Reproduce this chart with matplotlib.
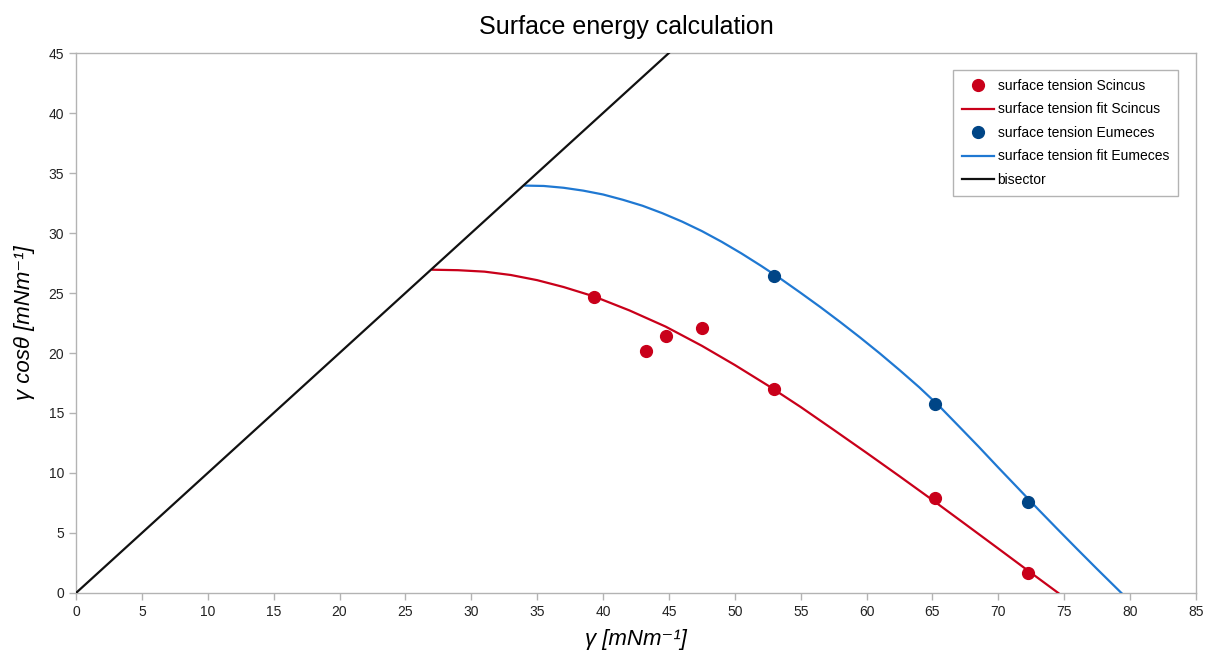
import matplotlib
matplotlib.use("Agg")
import matplotlib.pyplot as plt

plt.rcParams["font.family"] = ["Liberation Sans", "DejaVu Sans"]

# measured surface tension (x: gamma, y: gamma cos theta)
scincus_x = [39.3, 43.26, 44.77, 47.5, 52.95, 65.2, 72.27]
scincus_y = [24.7, 20.19, 21.44, 22.1, 17.02, 7.92, 1.67]

eumeces_x = [53.0, 65.23, 72.27]
eumeces_y = [26.44, 15.78, 7.55]

# fit curves
fit_scincus_x = [27.07, 29.0, 31.0, 33.0, 35.0, 37.0, 39.3, 42.0, 44.75, 47.5,
                 50.0, 52.5, 55.0, 57.5, 60.0, 62.5, 65.0, 67.5, 70.0, 72.5,
                 74.55]
fit_scincus_y = [26.94, 26.9, 26.78, 26.5, 26.07, 25.5, 24.72, 23.55, 22.2, 20.6,
                 19.0, 17.3, 15.5, 13.6, 11.68, 9.73, 7.75, 5.73, 3.7, 1.66,
                 0.0]

fit_eumeces_x = [34.1, 35.5, 37.0, 38.5, 40.0, 41.5, 43.0, 44.5, 46.0, 47.5,
                 49.0, 50.5, 52.0, 53.5, 55.0, 56.5, 58.0, 59.5, 61.0, 62.5,
                 64.0, 65.5, 67.0, 68.5, 70.0, 71.5, 73.0, 74.5, 76.0, 77.5,
                 79.34]
fit_eumeces_y = [33.95, 33.92, 33.77, 33.53, 33.21, 32.77, 32.27, 31.65, 30.95, 30.16,
                 29.27, 28.3, 27.26, 26.17, 25.01, 23.82, 22.58, 21.3, 19.97, 18.58,
                 17.14, 15.59, 13.9, 12.2, 10.45, 8.73, 7.0, 5.31, 3.64, 1.99,
                 0.0]

bisector_x = [0, 45]
bisector_y = [0, 45]

RED = "#c9001a"
BLUE_PT = "#004586"
BLUE_LN = "#1f78d2"
FRAME = "#b3b3b3"

fig = plt.figure(figsize=(12.06, 6.52), dpi=100)
ax = fig.add_axes([0.063, 0.0905, 0.9287, 0.8282])

ax.plot(scincus_x, scincus_y, "o", color=RED, ms=8.5, label="surface tension Scincus", zorder=4)
ax.plot(fit_scincus_x, fit_scincus_y, "-", color=RED, lw=1.6, label="surface tension fit Scincus", zorder=3)
ax.plot(eumeces_x, eumeces_y, "o", color=BLUE_PT, ms=8.5, label="surface tension Eumeces", zorder=4)
ax.plot(fit_eumeces_x, fit_eumeces_y, "-", color=BLUE_LN, lw=1.6, label="surface tension fit Eumeces", zorder=3)
ax.plot(bisector_x, bisector_y, "-", color="#111111", lw=1.6, label="bisector", zorder=3)

ax.set_xlim(0, 85)
ax.set_ylim(0, 45)
ax.set_xticks(range(0, 86, 5))
ax.set_yticks(range(0, 46, 5))
ax.tick_params(axis="both", colors=FRAME, labelcolor="#222222", labelsize=10, length=5, width=1)
for s in ax.spines.values():
    s.set_color(FRAME)
    s.set_linewidth(1)

ax.set_title("Surface energy calculation", fontsize=18, pad=14, x=0.491)
ax.set_xlabel("γ [mNm⁻¹]", fontsize=16, style="italic", labelpad=7)
ax.set_ylabel("γ cosθ [mNm⁻¹]", fontsize=16, style="italic", labelpad=10)

leg = ax.legend(loc="upper right", bbox_to_anchor=(0.984, 0.9685), fontsize=10,
                fancybox=False, framealpha=1, edgecolor=FRAME, handlelength=2.3,
                borderpad=0.65, labelspacing=0.68, handletextpad=0.3, borderaxespad=0)
leg.get_frame().set_linewidth(1)

fig.savefig("out.png", dpi=100)
